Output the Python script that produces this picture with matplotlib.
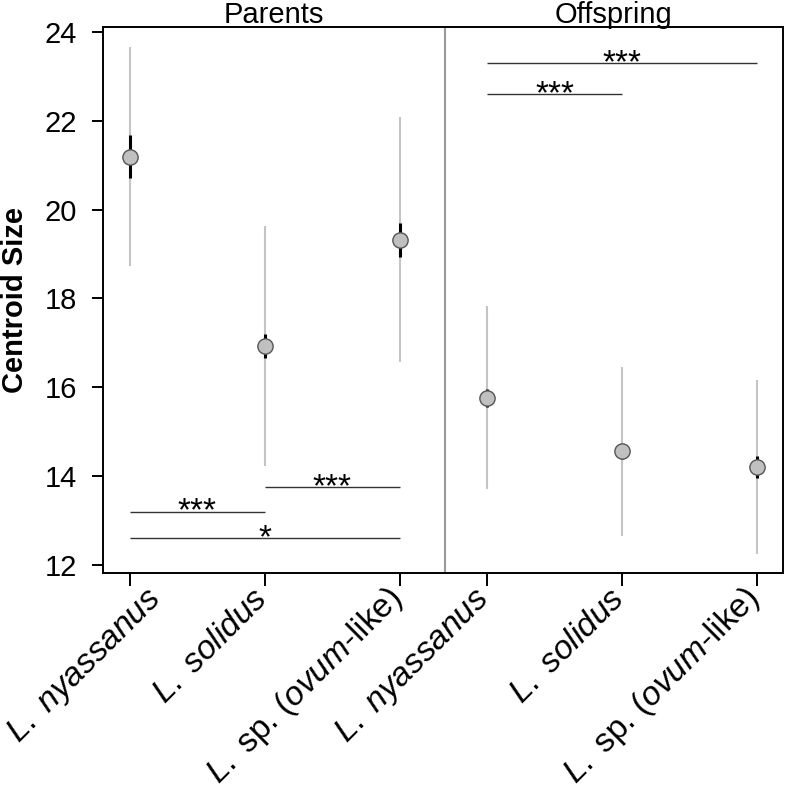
import numpy as np
import matplotlib
matplotlib.use("Agg")
import matplotlib.pyplot as plt
import matplotlib.transforms as mtransforms

plt.rcParams['font.family'] = ['Liberation Sans', 'DejaVu Sans']
plt.rcParams['mathtext.fontset'] = 'custom'
plt.rcParams['mathtext.rm'] = 'Liberation Sans'
plt.rcParams['mathtext.it'] = 'Liberation Sans:italic'

# data
groups = ['Parents', 'Offspring']
species = [r'$\mathit{L.\ nyassanus}$', r'$\mathit{L.\ solidus}$',
           r'$\mathit{L.}$ sp. ($\mathit{ovum}$-like)']

parent_mean = [21.19, 16.93, 19.32]
parent_lo = [18.72, 14.24, 16.57]
parent_hi = [23.65, 19.63, 22.09]
parent_se_lo = [20.70, 16.66, 18.94]
parent_se_hi = [21.68, 17.20, 19.70]

offspring_mean = [15.77, 14.56, 14.22]
offspring_lo = [13.71, 12.67, 12.25]
offspring_hi = [17.83, 16.47, 16.17]
offspring_se_lo = [15.57, 14.39, 13.97]
offspring_se_hi = [15.96, 14.73, 14.46]

# significance bars: (group, from, to, y, label)
sig_bars = [
    (0, 0, 1, 13.21, '***'),
    (0, 1, 2, 13.755, '***'),
    (0, 0, 2, 12.61, '*'),
    (1, 0, 1, 22.59, '***'),
    (1, 0, 2, 23.29, '***'),
]

group_offset = [0.0, 2.65]
xpos = [np.arange(3) + 1 + off for off in group_offset]

fig = plt.figure(figsize=(7.87, 7.91), dpi=100)
ax = fig.add_axes([0.1315, 0.2752, 0.995 - 0.1315, 0.9659 - 0.2752])

series = [
    (parent_mean, parent_lo, parent_hi, parent_se_lo, parent_se_hi),
    (offspring_mean, offspring_lo, offspring_hi, offspring_se_lo, offspring_se_hi),
]
for x, (m, lo, hi, slo, shi) in zip(xpos, series):
    ax.vlines(x, lo, hi, color='#c4c4c4', lw=1.5, zorder=2)
    ax.vlines(x, slo, shi, color='black', lw=2.2, zorder=3)
    ax.plot(x, m, 'o', ms=11, mfc='#c0c0c0', mec='#555555', mew=1.0, zorder=4)

for g, i, j, y, lab in sig_bars:
    x0, x1 = xpos[g][i], xpos[g][j]
    ax.hlines(y, x0, x1, color='#333333', lw=1.0, zorder=2)
    ax.annotate(lab, ((x0 + x1) / 2, y), xytext=(0, -6.5), textcoords='offset points',
                ha='center', va='baseline', fontsize=24)

divider = (xpos[0][-1] + xpos[1][0]) / 2 + 0.008
ax.axvline(divider, color='#999999', lw=1.5, zorder=1)

ax.set_xlim(0.804, 5.843)
ax.set_ylim(11.82, 24.106)
ax.set_yticks([12, 14, 16, 18, 20, 22, 24])
ax.set_xticks(np.concatenate(xpos))

ax.tick_params(axis='y', labelsize=21, length=8, width=1.4, pad=11)
ax.tick_params(axis='x', length=9, width=1.4, pad=6)
for sp in ax.spines.values():
    sp.set_linewidth(1.4)

ax.set_xticklabels(species * 2, rotation=45, ha='right', va='center',
                   rotation_mode='anchor', fontsize=24)
# the first label sits a little to the right in the original
nudge_px = [29, 0, 0, 0, 0, 0]
for lbl, dx in zip(ax.get_xticklabels(), nudge_px):
    shift = mtransforms.ScaledTranslation((dx - 2) / 100, 0, fig.dpi_scale_trans)
    lbl.set_transform(lbl.get_transform() + shift)

ax.set_ylabel('Centroid Size', fontsize=21, fontweight='bold', labelpad=11)

bounds = [0.804, divider, 5.843]
trans = mtransforms.blended_transform_factory(ax.transData, ax.transAxes)
for k, name in enumerate(groups):
    ax.annotate(name, ((bounds[k] + bounds[k + 1]) / 2, 1.0), xycoords=trans,
                xytext=(0, 3), textcoords='offset points',
                ha='center', va='baseline', fontsize=21)

fig.savefig('out.png', dpi=100)
